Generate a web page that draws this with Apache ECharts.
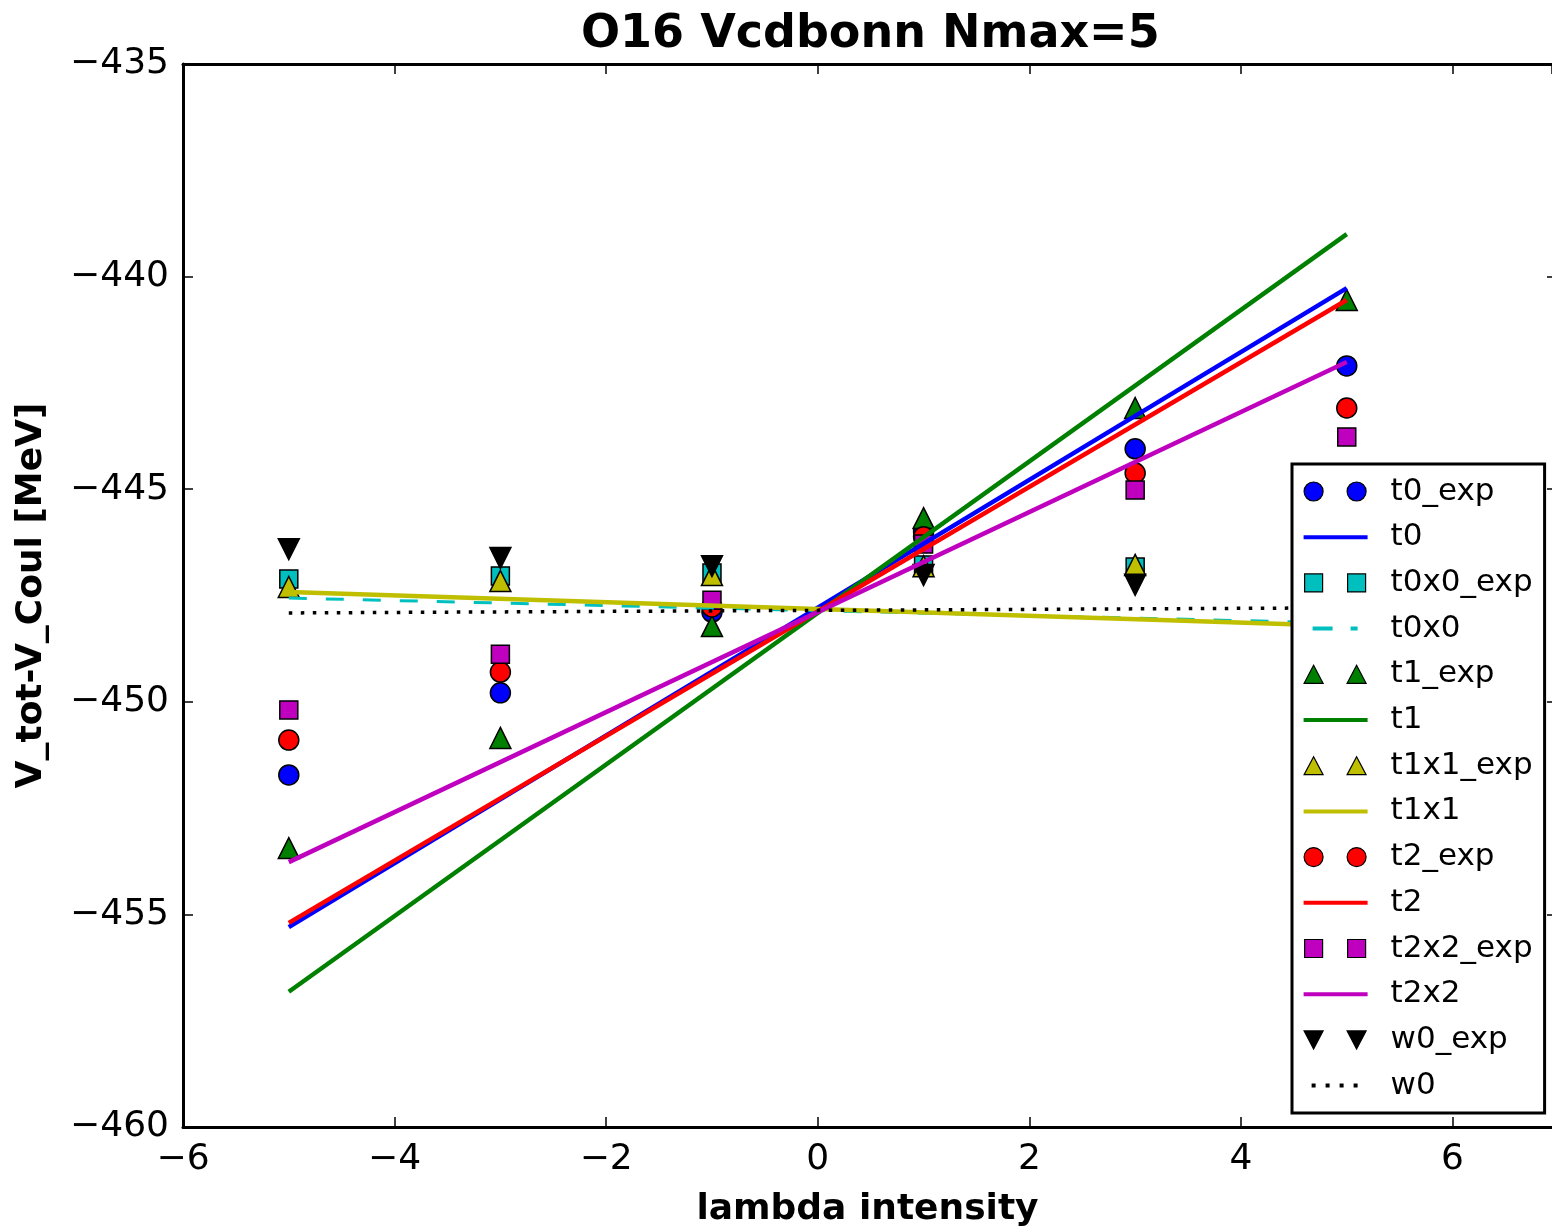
<!DOCTYPE html>
<html><head><meta charset="utf-8">
<script src="https://cdn.jsdelivr.net/npm/echarts@6/dist/echarts.min.js"></script>
<style>html,body{margin:0;padding:0;background:#fff}#c{width:1552px;height:1229px}</style>
</head><body><div id="c"></div>
<script>
const lambdaX = [-5, -3, -1, 1, 3, 5];
const t0Exp   = [-451.72, -449.79, -447.89, -446.00, -444.05, -442.10];
const t0x0Exp = [-447.11, -447.04, -446.97, -446.78, -446.83, -446.75];
const t1Exp   = [-453.44, -450.85, -448.22, -445.68, -443.09, -440.55];
const t1x1Exp = [-447.30, -447.16, -447.02, -446.81, -446.78, -446.65];
const t2Exp   = [-450.90, -449.30, -447.77, -446.12, -444.62, -443.09];
const t2x2Exp = [-450.19, -448.88, -447.61, -446.29, -445.02, -443.77];
const w0Exp   = [-446.41, -446.62, -446.81, -447.02, -447.25, -447.35];

const fitX    = [-5, 5];
const t0Fit   = [-455.30, -440.27];
const t0x0Fit = [-447.56, -448.15];
const t1Fit   = [-456.82, -439.00];
const t1x1Fit = [-447.42, -448.22];
const t2Fit   = [-455.20, -440.55];
const t2x2Fit = [-453.77, -442.01];
const w0Fit   = [-447.91, -447.79];

const xTicks = [-6, -4, -2, 0, 2, 4, 6];
const yTicks = [-460, -455, -450, -445, -440, -435];

const C = {b:'#0000ff', c:'#00bfbf', g:'#008000', y:'#bfbf00', r:'#ff0000', m:'#bf00bf', k:'#000000'};
const FONT = 'DejaVu Sans';

function pts(xs, ys){ return xs.map((x,i)=>[x, ys[i]]); }

const PAD = 'M0,0L0,0M64,20L64,20';
const ICON = {
  circle: 'path://' + PAD + 'M0.5,10A9.5,9.5 0 1,0 19.5,10A9.5,9.5 0 1,0 0.5,10ZM43.5,10A9.5,9.5 0 1,0 62.5,10A9.5,9.5 0 1,0 43.5,10Z',
  rect: 'path://' + PAD + 'M1,1H19V19H1ZM44,1H62V19H44Z',
  tri: 'path://' + PAD + 'M10,1L19.5,19H0.5ZM53,1L62.5,19H43.5Z',
  tridown: 'path://' + PAD + 'M0.5,1H19.5L10,19ZM43.5,1H62.5L53,19Z',
  line: 'path://' + PAD + 'M0,8H64V12H0Z',
  dash: 'path://' + PAD + 'M9,8H29V12H9ZM47,8H54V12H47Z',
  dot: 'path://' + PAD + 'M8,8H12V12H8ZM22,8H26V12H22ZM36,8H40V12H36ZM50,8H54V12H50Z'
};

function sc(name, ys, color, symbol, rotate){
  return {name, type:'scatter', data:pts(lambdaX, ys), symbol, symbolSize: symbol==='circle'?20:(symbol==='rect'?18:21),
    symbolRotate: rotate||0,
    itemStyle:{color, borderColor:'#000', borderWidth:1.5, opacity:1}, emphasis:{disabled:true}};
}
function ln(name, ys, color, type, width){
  return {name, type:'line', data:pts(fitX, ys), showSymbol:false, symbol:'none',
    lineStyle:{color, width: width||4.5, type: type||'solid', cap:'butt'}, itemStyle:{color}, emphasis:{disabled:true}};
}

const series = [
  sc('t0_exp', t0Exp, C.b, 'circle'),
  ln('t0', t0Fit, C.b),
  sc('t0x0_exp', t0x0Exp, C.c, 'rect'),
  ln('t0x0', t0x0Fit, C.c, [18, 19], 3),
  sc('t1_exp', t1Exp, C.g, 'triangle'),
  ln('t1', t1Fit, C.g),
  sc('t1x1_exp', t1x1Exp, C.y, 'triangle'),
  ln('t1x1', t1x1Fit, C.y),
  sc('t2_exp', t2Exp, C.r, 'circle'),
  ln('t2', t2Fit, C.r),
  sc('t2x2_exp', t2x2Exp, C.m, 'rect'),
  ln('t2x2', t2x2Fit, C.m),
  sc('w0_exp', w0Exp, C.k, 'triangle', 180),
  ln('w0', w0Fit, C.k, [3.5, 8.5], 3.5)
];

const legendData = [
  {name:'t0_exp', icon:ICON.circle, itemStyle:{color:C.b, borderColor:'#000', borderWidth:1.2}},
  {name:'t0', icon:ICON.line, itemStyle:{color:C.b, borderWidth:0}},
  {name:'t0x0_exp', icon:ICON.rect, itemStyle:{color:C.c, borderColor:'#000', borderWidth:1.2}},
  {name:'t0x0', icon:ICON.dash, itemStyle:{color:C.c, borderWidth:0}},
  {name:'t1_exp', icon:ICON.tri, itemStyle:{color:C.g, borderColor:'#000', borderWidth:1.2}},
  {name:'t1', icon:ICON.line, itemStyle:{color:C.g, borderWidth:0}},
  {name:'t1x1_exp', icon:ICON.tri, itemStyle:{color:C.y, borderColor:'#000', borderWidth:1.2}},
  {name:'t1x1', icon:ICON.line, itemStyle:{color:C.y, borderWidth:0}},
  {name:'t2_exp', icon:ICON.circle, itemStyle:{color:C.r, borderColor:'#000', borderWidth:1.2}},
  {name:'t2', icon:ICON.line, itemStyle:{color:C.r, borderWidth:0}},
  {name:'t2x2_exp', icon:ICON.rect, itemStyle:{color:C.m, borderColor:'#000', borderWidth:1.2}},
  {name:'t2x2', icon:ICON.line, itemStyle:{color:C.m, borderWidth:0}},
  {name:'w0_exp', icon:ICON.tridown, itemStyle:{color:C.k, borderColor:'#000', borderWidth:1.2}},
  {name:'w0', icon:ICON.dot, itemStyle:{color:C.k, borderWidth:0}}
];

const tickStyle = {show:true, inside:true, length:10, lineStyle:{color:'#000', width:1.5}};
const axisLine = {show:true, onZero:false, lineStyle:{color:'#000', width:3}};

const chart = echarts.init(document.getElementById('c'), null, {renderer:'canvas'});
chart.setOption({
  animation:false,
  backgroundColor:'#fff',
  textStyle:{fontFamily:FONT},
  title:{text:'O16 Vcdbonn Nmax=5', left:576, top:7,
    textStyle:{fontFamily:FONT, fontWeight:'bold', fontSize:46, color:'#000'}},
  grid:{left:183, top:64, right:0, bottom:102, containLabel:false, outerBoundsMode:'none'},
  legend:{orient:'vertical', left:1292, top:464, data:legendData,
    itemWidth:64, itemHeight:20, itemGap:14.7, symbolKeepAspect:true,
    padding:[12, 12, 12, 11], backgroundColor:'#fff', borderColor:'#000', borderWidth:3,
    textStyle:{fontFamily:FONT, fontSize:31, color:'#000', padding:[0,0,0,18], lineHeight:31},
    selectedMode:false, z:10},
  xAxis:[{type:'value', min:-6, max:6.94, interval:2, position:'bottom',
      name:'lambda intensity', nameLocation:'middle', nameGap:65,
      nameTextStyle:{fontFamily:FONT, fontWeight:'bold', fontSize:36, color:'#000'},
      axisLine, axisTick:tickStyle, splitLine:{show:false},
      axisLabel:{fontFamily:FONT, fontSize:36, color:'#000', margin:15, showMaxLabel:false,
        formatter:v=> xTicks.includes(v) ? String(v).replace('-', '\u2212') : ''}},
    {type:'value', min:-6, max:6.94, interval:2, position:'top', axisLine, axisTick:tickStyle,
      axisLabel:{show:false}, splitLine:{show:false}}],
  yAxis:[{type:'value', min:-460, max:-435, interval:5, position:'left',
      name:'V_tot-V_Coul [MeV]', nameLocation:'middle', nameGap:133,
      nameTextStyle:{fontFamily:FONT, fontWeight:'bold', fontSize:36, color:'#000'},
      axisLine, axisTick:tickStyle, splitLine:{show:false},
      axisLabel:{fontFamily:FONT, fontSize:36, color:'#000', margin:14,
        formatter:v=> yTicks.includes(v) ? String(v).replace('-', '\u2212') : ''}},
    {type:'value', min:-460, max:-435, interval:5, position:'right',
      axisLine:{show:false, onZero:false},
      axisTick:{show:true, inside:true, length:5, lineStyle:{color:'#000', width:1.5}},
      axisLabel:{show:false}, splitLine:{show:false}}],
  series
});
</script></body></html>
